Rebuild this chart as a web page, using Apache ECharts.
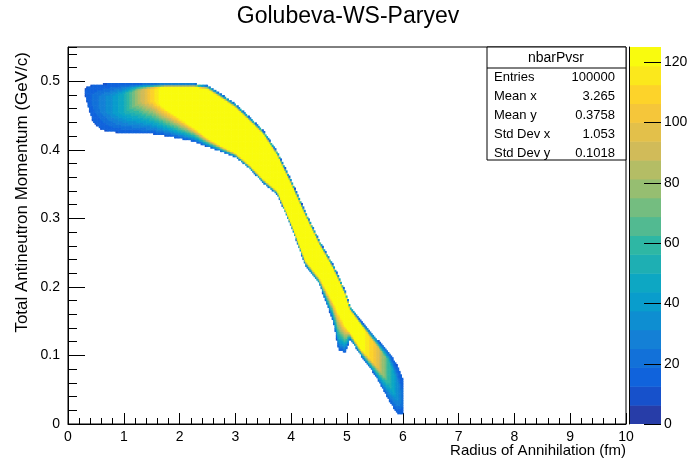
<!DOCTYPE html>
<html>
<head>
<meta charset="utf-8">
<script src="https://cdn.jsdelivr.net/npm/echarts@6/dist/echarts.min.js"></script>
<style>
html, body { margin: 0; padding: 0; background: #fff; }
#chart { width: 696px; height: 472px; }
</style>
</head>
<body>
<div id="chart"></div>
<script>
// outline of the filled band at knots along the radius (fm)
const knotX   = [0.30, 0.36, 0.45, 0.60, 0.75, 1.00, 1.25, 1.50, 1.75, 2.00, 2.25, 2.50, 2.75, 3.00, 3.25, 3.50, 3.75, 4.00, 4.25, 4.50, 4.75, 4.85, 4.97, 5.05, 5.25, 5.50, 5.75, 5.90, 6.00];
const edgeTop = [0.490, 0.493, 0.495, 0.496, 0.497, 0.497, 0.497, 0.497, 0.497, 0.497, 0.497, 0.494, 0.481, 0.467, 0.448, 0.428, 0.397, 0.355, 0.310, 0.268, 0.232, 0.215, 0.193, 0.172, 0.150, 0.127, 0.105, 0.085, 0.065];
const edgeBot = [0.482, 0.462, 0.440, 0.430, 0.427, 0.425, 0.425, 0.424, 0.421, 0.417, 0.413, 0.405, 0.398, 0.390, 0.373, 0.352, 0.335, 0.288, 0.232, 0.205, 0.150, 0.108, 0.105, 0.125, 0.100, 0.072, 0.035, 0.015, 0.015];
// part of each column sitting at the column's peak count
const coreTop = [0.487, 0.484, 0.480, 0.478, 0.478, 0.482, 0.488, 0.490, 0.492, 0.492, 0.492, 0.489, 0.476, 0.462, 0.443, 0.423, 0.392, 0.350, 0.305, 0.263, 0.227, 0.210, 0.188, 0.167, 0.145, 0.118, 0.092, 0.062, 0.042];
const coreBot = [0.485, 0.472, 0.465, 0.460, 0.455, 0.455, 0.468, 0.472, 0.462, 0.448, 0.434, 0.418, 0.406, 0.396, 0.379, 0.358, 0.341, 0.294, 0.240, 0.215, 0.180, 0.165, 0.145, 0.135, 0.110, 0.088, 0.062, 0.037, 0.027];
const peak    = [12, 15, 20, 28, 35, 50, 80, 110, 126, 126, 126, 126, 126, 126, 126, 126, 126, 126, 126, 126, 126, 126, 126, 126, 126, 105, 60, 35, 20];
const edgeCount = 12;

const xLabels = [0, 1, 2, 3, 4, 5, 6, 7, 8, 9, 10];
const yLabels = [0, 0.1, 0.2, 0.3, 0.4, 0.5];
const zLabels = [0, 20, 40, 60, 80, 100, 120];
const zMax = 125;
const nLevels = 20;

const statsName = 'nbarPvsr';
const statsLabels = ['Entries', 'Mean x', 'Mean y', 'Std Dev x', 'Std Dev y'];
const statsValues = ['100000', '3.265', '0.3758', '1.053', '0.1018'];

const binW = 0.025, binH = 0.0025;

// ROOT kBird palette
const birdStops = [0.0, 0.125, 0.25, 0.375, 0.5, 0.625, 0.75, 0.875, 1.0];
const birdR = [0.2082, 0.0592, 0.0780, 0.0232, 0.1802, 0.5301, 0.8186, 0.9956, 0.9764];
const birdG = [0.1664, 0.3599, 0.5041, 0.6419, 0.7178, 0.7492, 0.7328, 0.7862, 0.9832];
const birdB = [0.5293, 0.8684, 0.8385, 0.7914, 0.6425, 0.4662, 0.3499, 0.1968, 0.0539];
function bird(t) {
    let k = 0;
    while (k < birdStops.length - 2 && t > birdStops[k + 1]) k++;
    const f = (t - birdStops[k]) / (birdStops[k + 1] - birdStops[k]);
    const c = a => Math.round(255 * (a[k] + (a[k + 1] - a[k]) * f));
    return 'rgb(' + c(birdR) + ',' + c(birdG) + ',' + c(birdB) + ')';
}
const palette = [];
for (let i = 0; i < nLevels; i++) {
    palette.push(bird(Math.floor((i + 0.99) * 255 / nLevels) / 254));
}
const step = zMax / nLevels;

function at(arr, x) {
    let k = 0;
    while (k < knotX.length - 2 && x > knotX[k + 1]) k++;
    const f = (x - knotX[k]) / (knotX[k + 1] - knotX[k]);
    return arr[k] + (arr[k + 1] - arr[k]) * f;
}

const cells = [];
for (let i = 0; i < 10 / binW; i++) {
    const xc = (i + 0.5) * binW;
    if (xc < knotX[0] || xc > knotX[knotX.length - 1]) continue;
    const top = at(edgeTop, xc), bot = at(edgeBot, xc);
    const cTop = at(coreTop, xc), cBot = at(coreBot, xc);
    const pk = at(peak, xc);
    for (let j = 0; j < 0.55 / binH; j++) {
        const yc = (j + 0.5) * binH;
        if (yc > top || yc < bot) continue;
        let v;
        if (yc >= cBot && yc <= cTop) v = pk;
        else if (yc > cTop) v = edgeCount + (pk - edgeCount) * (top - yc) / (top - cTop);
        else v = edgeCount + (pk - edgeCount) * (yc - bot) / (cBot - bot);
        cells.push([i * binW, j * binH, Math.min(v, zMax - 0.01)]);
    }
}

const pieces = palette.map((c, i) => ({ gte: i * step, lt: (i + 1) * step, color: c }));
const levels = palette.map((c, i) => [i]);

const font = 'Liberation Sans, Arial, sans-serif';
const chart = echarts.init(document.getElementById('chart'), null, { renderer: 'canvas' });

const statsGraphics = [
    { type: 'rect', shape: { x: 487, y: 47, width: 139, height: 113 }, style: { fill: '#fff', stroke: '#000', lineWidth: 1 } },
    { type: 'line', shape: { x1: 487, y1: 68, x2: 626, y2: 68 }, style: { stroke: '#000', lineWidth: 1 } },
    { type: 'text', x: 556, y: 58, style: { text: statsName, font: '14px ' + font, fill: '#000', align: 'center', verticalAlign: 'middle' } }
];
statsLabels.forEach((s, i) => {
    const y = 77 + i * 19;
    statsGraphics.push({ type: 'text', x: 494, y: y, style: { text: s, font: '13px ' + font, fill: '#000', align: 'left', verticalAlign: 'middle' } });
    statsGraphics.push({ type: 'text', x: 615, y: y, style: { text: statsValues[i], font: '13px ' + font, fill: '#000', align: 'right', verticalAlign: 'middle' } });
});

chart.setOption({
    animation: false,
    backgroundColor: '#fff',
    grid: [
        { left: 68, right: 70, top: 47, bottom: 48, show: true, borderColor: '#000', borderWidth: 1, backgroundColor: 'transparent' },
        { left: 629, width: 32, top: 47, bottom: 48 }
    ],
    xAxis: [
        {
            type: 'value', gridIndex: 0, min: 0, max: 10, interval: 1,
            axisLine: { lineStyle: { color: '#000' } },
            axisTick: { inside: true, length: 11, lineStyle: { color: '#000' } },
            minorTick: { show: true, splitNumber: 5, length: 6, lineStyle: { color: '#000' } },
            axisLabel: { color: '#000', fontSize: 14, fontFamily: font, margin: 6 },
            splitLine: { show: false }
        },
        { type: 'value', gridIndex: 1, min: 0, max: 1, show: false }
    ],
    yAxis: [
        {
            type: 'value', gridIndex: 0, min: 0, max: 0.55, interval: 0.1,
            axisLine: { show: true, lineStyle: { color: '#000' } },
            axisTick: { show: true, inside: true, length: 17, lineStyle: { color: '#000' } },
            axisLabel: { color: '#000', fontSize: 14, fontFamily: font, margin: 8, showMaxLabel: false,
                formatter: v => yLabels.indexOf(Math.round(v * 10) / 10) < 0 ? '' : (v === 0 ? '0' : v.toFixed(1)) },
            splitLine: { show: false }
        },
        {
            type: 'value', gridIndex: 0, min: 0, max: 0.55, interval: 0.02, position: 'left',
            axisLine: { show: false },
            axisTick: { show: true, inside: true, length: 9, lineStyle: { color: '#000' } },
            axisLabel: { show: false },
            splitLine: { show: false }
        },
        {
            type: 'value', gridIndex: 1, min: 0, max: zMax, position: 'right', z: 10,
            axisLine: { show: true, lineStyle: { color: '#000' } },
            axisTick: { show: false },
            axisLabel: { color: '#000', fontSize: 14, fontFamily: font, margin: 3, customValues: zLabels },
            splitLine: { show: false }
        }
    ],
    visualMap: {
        type: 'piecewise', show: false, seriesIndex: 0, dimension: 2, pieces: pieces
    },
    series: [
        {
            type: 'custom', xAxisIndex: 0, yAxisIndex: 0, clip: true,
            data: cells,
            renderItem: (params, api) => {
                const x = api.value(0), y = api.value(1);
                const p0 = api.coord([x, y + binH]);
                const p1 = api.coord([x + binW, y]);
                return {
                    type: 'rect',
                    shape: { x: p0[0], y: p0[1], width: p1[0] - p0[0] + 0.6, height: p1[1] - p0[1] + 0.6 },
                    style: { fill: api.visual('color') }
                };
            }
        },
        {
            type: 'custom', xAxisIndex: 1, yAxisIndex: 2, clip: true,
            data: levels,
            renderItem: (params, api) => {
                const i = api.value(0);
                const p0 = api.coord([0, (i + 1) * step]);
                const p1 = api.coord([1, i * step]);
                return {
                    type: 'rect',
                    shape: { x: p0[0], y: p0[1], width: p1[0] - p0[0], height: p1[1] - p0[1] + 0.5 },
                    style: { fill: palette[i] }
                };
            }
        },
        {
            // tick marks of the colour scale, drawn over the bar
            type: 'custom', xAxisIndex: 1, yAxisIndex: 2, clip: false, z: 5,
            data: zLabels.map(z => [z]),
            renderItem: (params, api) => {
                const p = api.coord([1, api.value(0)]);
                return {
                    type: 'line',
                    shape: { x1: p[0] - 17, y1: Math.round(p[1]) + 0.5, x2: p[0], y2: Math.round(p[1]) + 0.5 },
                    style: { stroke: '#000', lineWidth: 1 }
                };
            }
        }
    ],
    graphic: [
        { type: 'text', x: 348, y: 17, style: { text: 'Golubeva-WS-Paryev', font: '23px ' + font, fill: '#000', align: 'center', verticalAlign: 'middle' } },
        { type: 'text', x: 626, y: 451, style: { text: 'Radius of Annihilation (fm)', font: '15px ' + font, fill: '#000', align: 'right', verticalAlign: 'middle' } },
        { type: 'text', x: 22, y: 52, rotation: Math.PI / 2, style: { text: 'Total Antineutron Momentum (GeV/c)', font: '17px ' + font, fill: '#000', align: 'right', verticalAlign: 'middle' } }
    ].concat(statsGraphics)
});
</script>
</body>
</html>
